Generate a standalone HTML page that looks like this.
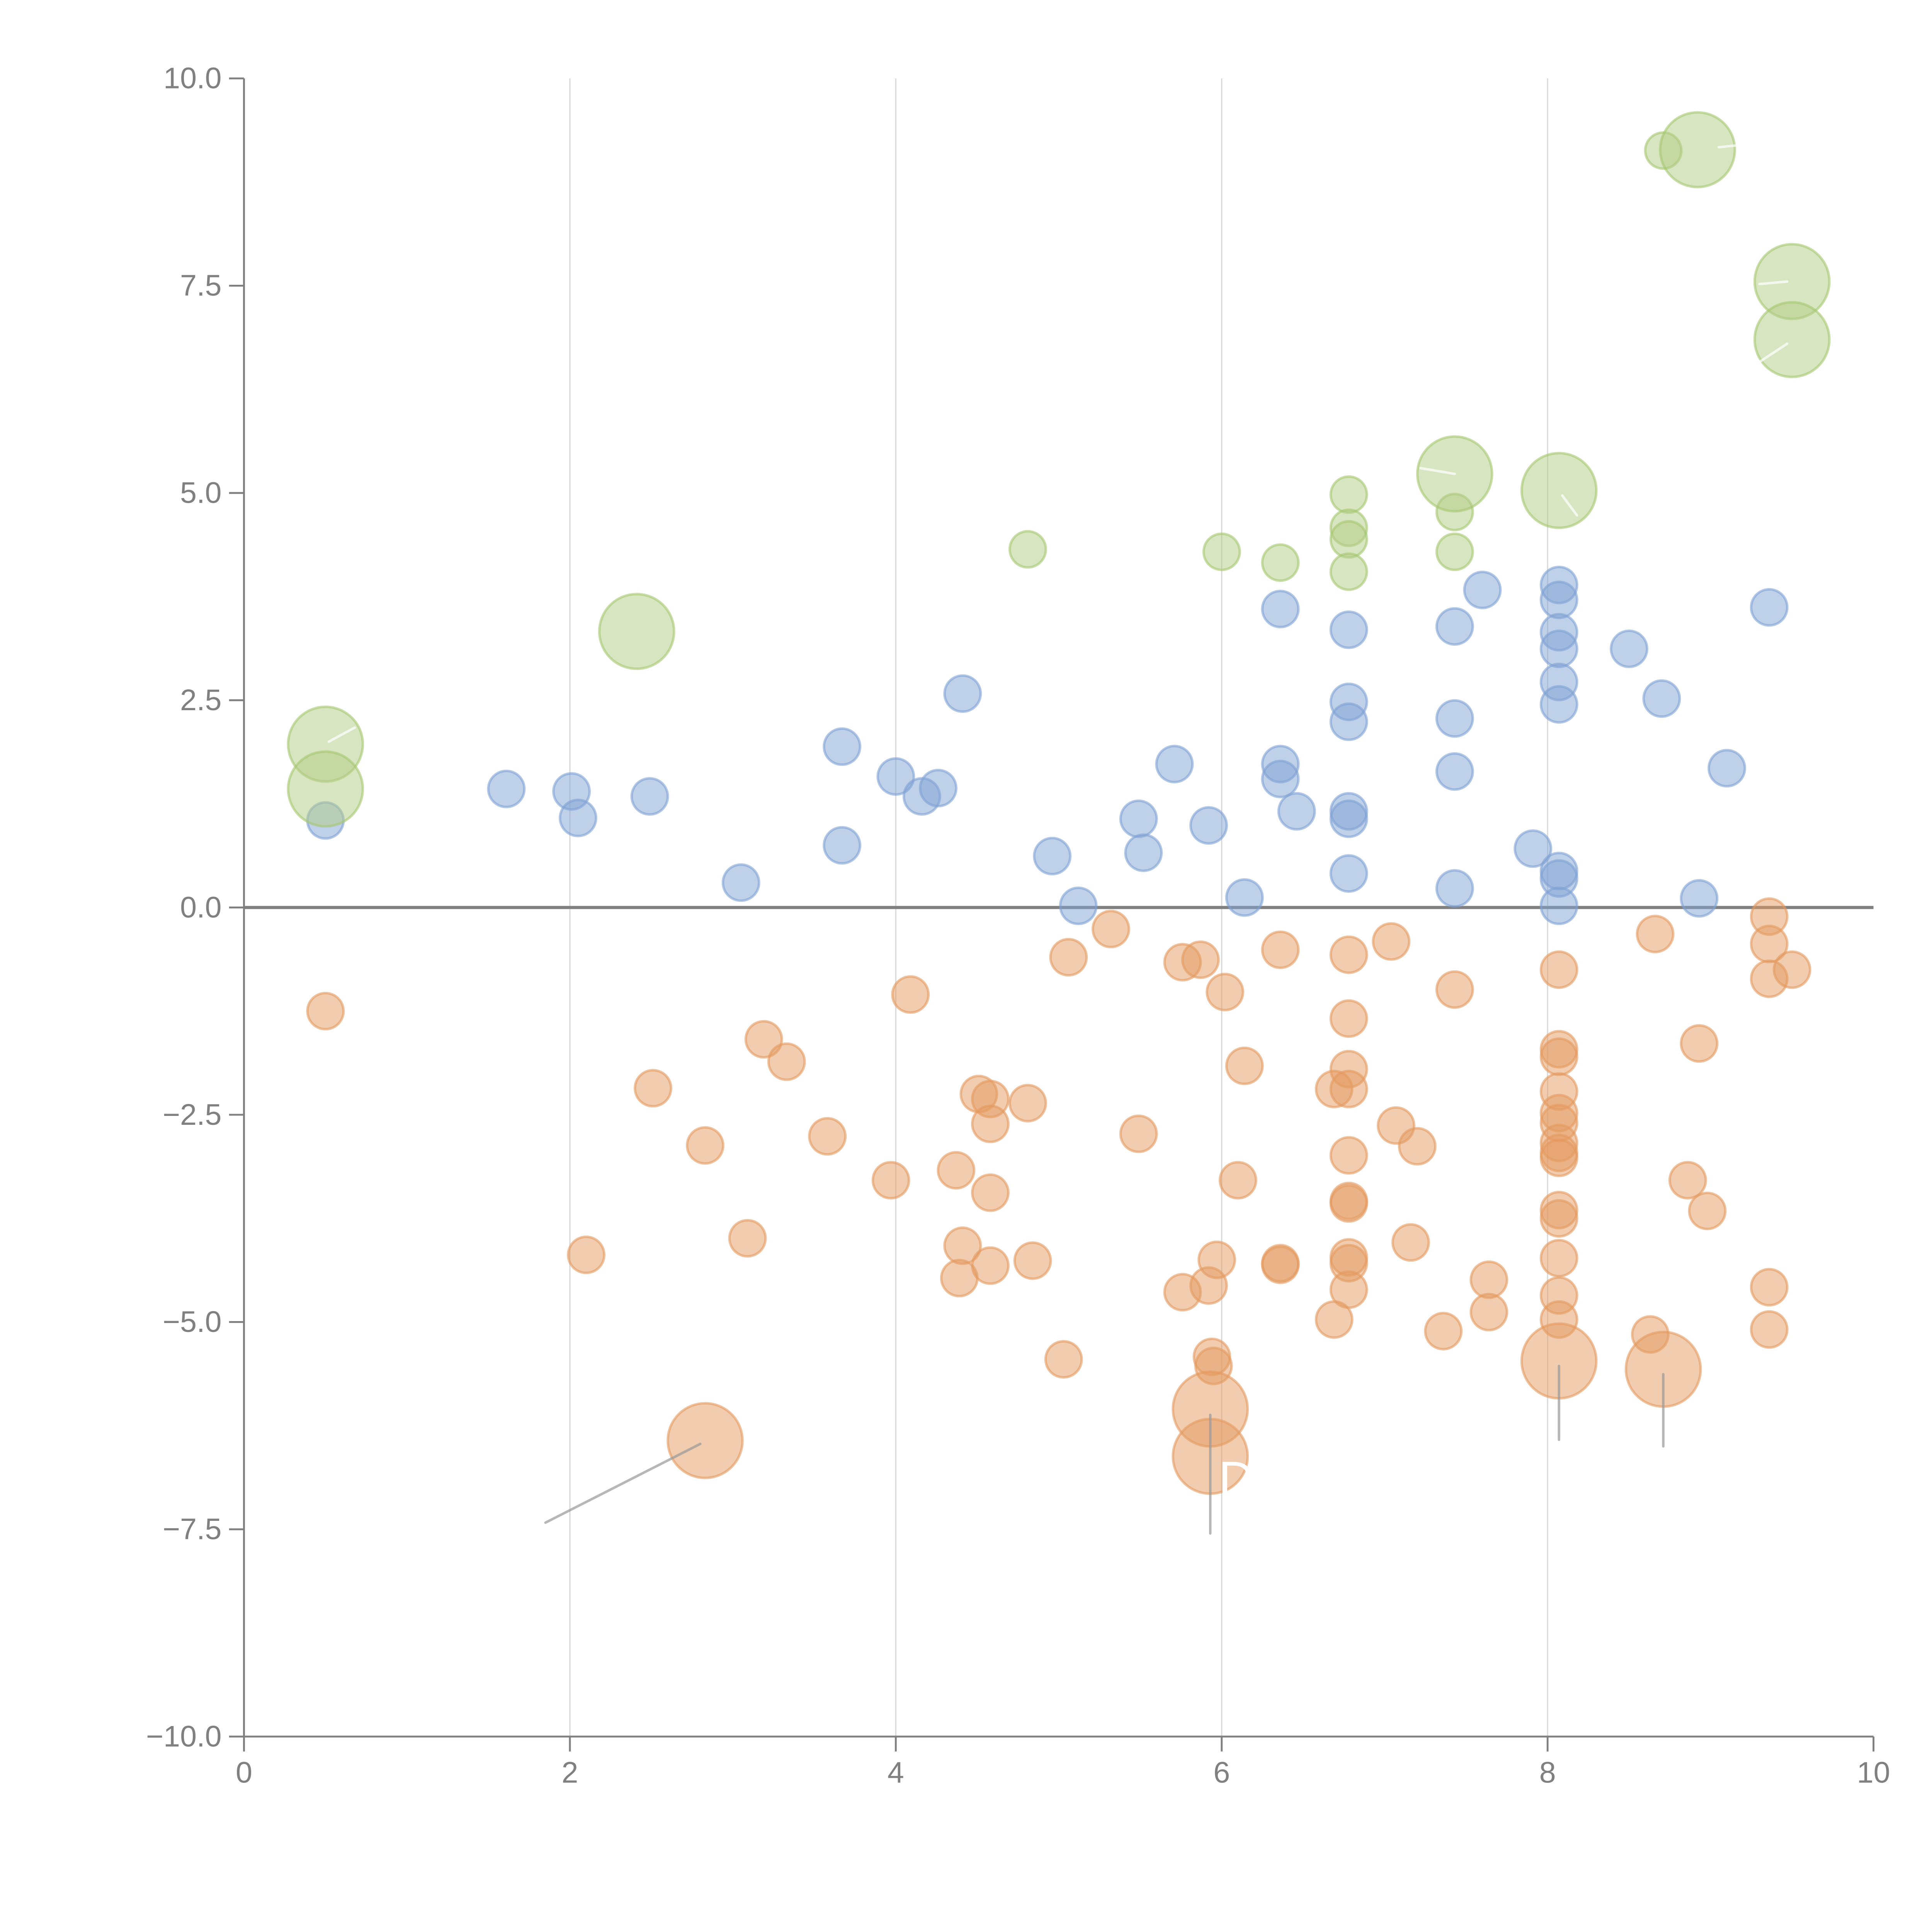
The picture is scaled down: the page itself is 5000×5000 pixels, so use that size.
<!DOCTYPE html>
<html><head><meta charset="utf-8"><style>html,body{margin:0;padding:0;background:#fff}svg{display:block}</style></head>
<body>
<svg id="chart" width="5000" height="5000" viewBox="0 0 1552 1552" xmlns="http://www.w3.org/2000/svg" font-family="'Liberation Sans', sans-serif">
<rect width="1552" height="1552" fill="#fff"/>
<g id="grid"></g><g id="axes"></g><g id="marks"></g><g id="overlay"></g>
</svg>
<script>
const xTicks=[0,2,4,6,8,10];
const yTicks=[10,7.5,5,2.5,0,-2.5,-5,-7.5,-10];
const yTickLabels=["10.0","7.5","5.0","2.5","0.0","\u22122.5","\u22125.0","\u22127.5","\u221210.0"];
const blueX=[0.50,1.61,2.01,2.05,2.49,3.05,3.67,3.67,4.00,4.16,4.26,4.41,4.96,5.12,5.49,5.52,5.71,5.92,6.14,6.36,6.36,6.36,6.46,6.78,6.78,6.78,6.78,6.78,6.78,7.43,7.43,7.43,7.43,7.60,7.91,8.07,8.07,8.07,8.07,8.07,8.07,8.07,8.07,8.07,8.50,8.70,8.93,9.10,9.36];
const blueY=[1.05,1.43,1.40,1.08,1.34,0.30,1.94,0.75,1.58,1.34,1.44,2.58,0.62,0.02,1.07,0.66,1.73,0.99,0.12,3.60,1.73,1.55,1.16,3.35,2.48,2.24,1.16,1.07,0.41,3.39,2.28,1.64,0.23,3.83,0.71,3.89,3.71,3.32,3.12,2.72,2.45,0.44,0.35,0.02,3.12,2.52,0.11,1.68,3.62];
const greenX=[4.81,6.00,6.36,6.78,6.78,6.78,6.78,7.43,7.43,8.71,0.50,0.50,2.41,7.43,8.07,8.92,9.50,9.50];
const greenY=[4.32,4.29,4.16,4.98,4.58,4.44,4.05,4.77,4.29,9.13,1.97,1.43,3.33,5.23,5.03,9.14,7.55,6.85];
const greenSize=[1,1,1,1,1,1,1,1,1,1,2,2,2,2,2,2,2,2];
const orangeX=[0.50,2.10,2.51,2.83,3.09,3.19,3.33,3.58,3.97,4.09,4.37,4.41,4.39,4.51,4.58,4.58,4.58,4.58,4.81,4.84,5.03,5.06,5.32,5.49,5.76,5.76,5.87,5.92,5.94,5.95,5.97,6.02,6.10,6.14,6.36,6.36,6.36,6.69,6.69,6.78,6.78,6.78,6.78,6.78,6.78,6.78,6.78,6.78,6.78,7.04,7.07,7.20,7.16,7.36,7.43,7.64,7.64,8.07,8.07,8.07,8.07,8.07,8.07,8.07,8.07,8.07,8.07,8.07,8.07,8.07,8.07,8.63,8.66,8.86,8.93,8.98,9.36,9.36,9.36,9.36,9.36,9.50,2.83,5.93,5.93,8.07,8.71];
const orangeY=[-1.25,-4.19,-2.18,-2.87,-3.99,-1.59,-1.86,-2.76,-3.29,-1.05,-3.17,-4.08,-4.47,-2.25,-2.31,-2.61,-3.44,-4.32,-2.36,-4.26,-5.45,-0.60,-0.26,-2.73,-0.66,-4.64,-0.63,-4.56,-5.42,-5.53,-4.25,-1.02,-3.29,-1.91,-0.51,-4.29,-4.31,-2.19,-4.97,-0.57,-1.34,-1.95,-2.19,-2.99,-3.54,-3.57,-4.22,-4.29,-4.61,-0.41,-2.63,-2.88,-4.04,-5.11,-0.99,-4.49,-4.88,-0.75,-1.71,-1.80,-2.22,-2.48,-2.60,-2.84,-2.96,-3.02,-3.65,-3.75,-4.23,-4.68,-4.97,-5.15,-0.32,-3.29,-1.64,-3.66,-0.11,-0.44,-0.86,-4.58,-5.09,-0.75,-6.43,-6.05,-6.62,-5.47,-5.57];
const orangeSize=orangeX.map((v,i)=>i>=82?2:1);
const blueSize=blueX.map(()=>1);

const NS="http://www.w3.org/2000/svg";
const X0=196,X1=1505,Y0=1395,Y1=63;
const sx=v=>X0+(v-0)/(10-0)*(X1-X0);
const sy=v=>Y0-(v+10)/20*(Y0-Y1);
const rs=s=>s===2?30:14.5;
function mk(tag,attrs,parent){const e=document.createElementNS(NS,tag);for(const k in attrs)e.setAttribute(k,attrs[k]);parent.appendChild(e);return e;}
const grid=document.getElementById('grid'),axes=document.getElementById('axes'),marks=document.getElementById('marks'),ov=document.getElementById('overlay');
xTicks.forEach(t=>{
  if(t>0&&t<10){const g=mk('line',{x1:sx(t),x2:sx(t),y1:Y1,y2:Y0,stroke:'#d9d9d9','stroke-width':1},grid);
  
  }
  const tk=mk('line',{x1:sx(t),x2:sx(t),y1:Y0,y2:Y0+12,stroke:'#808080','stroke-width':1.5},axes);
  
  
  const tx=mk('text',{x:sx(t),y:Y0+37,'text-anchor':'middle','font-size':24,fill:'#808080'},axes);tx.textContent=String(t);
  
  
});
yTicks.forEach((t,i)=>{
  const tk=mk('line',{x1:X0-12,x2:X0,y1:sy(t),y2:sy(t),stroke:'#808080','stroke-width':1.5},axes);
  
  
  const tx=mk('text',{x:X0-18,y:sy(t)+8,'text-anchor':'end','font-size':24,fill:'#808080'},axes);tx.textContent=yTickLabels[i];
  
  
});
let a=mk('line',{x1:X0,x2:X0,y1:Y1,y2:Y0,stroke:'#808080','stroke-width':1.5},axes);


a=mk('line',{x1:X0,x2:X1,y1:Y0,y2:Y0,stroke:'#808080','stroke-width':1.5},axes);


a=mk('line',{x1:X0,x2:X1,y1:sy(0),y2:sy(0),stroke:'#808080','stroke-width':2.5},axes);


function series(xs,ys,ss,fill,stroke,name){
  xs.forEach((x,i)=>{
    const c=mk('circle',{cx:sx(x),cy:sy(ys[i]),r:rs(ss[i]),fill:fill,'fill-opacity':0.5,stroke:stroke,'stroke-opacity':0.6,'stroke-width':2},marks);
    
    
  });
}
series(blueX,blueY,blueSize,'#7fa1d3','#7fa1d3','blue-bubble');
series(orangeX,orangeY,orangeSize,'#e49a5f','#e49a5f','orange-bubble');
series(greenX,greenY,greenSize,'#b1cc84','#a5c670','green-bubble');
[[1.85,-7.42,2.80,-6.47],[5.93,-6.12,5.93,-7.55],[8.07,-5.53,8.07,-6.42],[8.71,-5.63,8.71,-6.50]].forEach(l=>{
  const e=mk('line',{x1:sx(l[0]),y1:sy(l[1]),x2:sx(l[2]),y2:sy(l[3]),stroke:'#999','stroke-opacity':0.7,'stroke-width':2,'stroke-linecap':'round'},ov);
  
  
});
[[0.52,2.0,0.68,2.17],[9.05,9.17,9.35,9.23],[9.30,7.52,9.47,7.55],[9.30,6.58,9.47,6.80],[7.22,5.30,7.43,5.23],[8.09,4.97,8.18,4.73]].forEach(l=>{
  const e=mk('line',{x1:sx(l[0]),y1:sy(l[1]),x2:sx(l[2]),y2:sy(l[3]),stroke:'#fff','stroke-opacity':0.7,'stroke-width':2,'stroke-linecap':'round'},ov);
  
  
});
const lbl=mk('text',{x:sx(5.98),y:sy(-7.1),'font-size':40,fill:'#fff'},ov);lbl.textContent='D';


</script>
</body></html>
